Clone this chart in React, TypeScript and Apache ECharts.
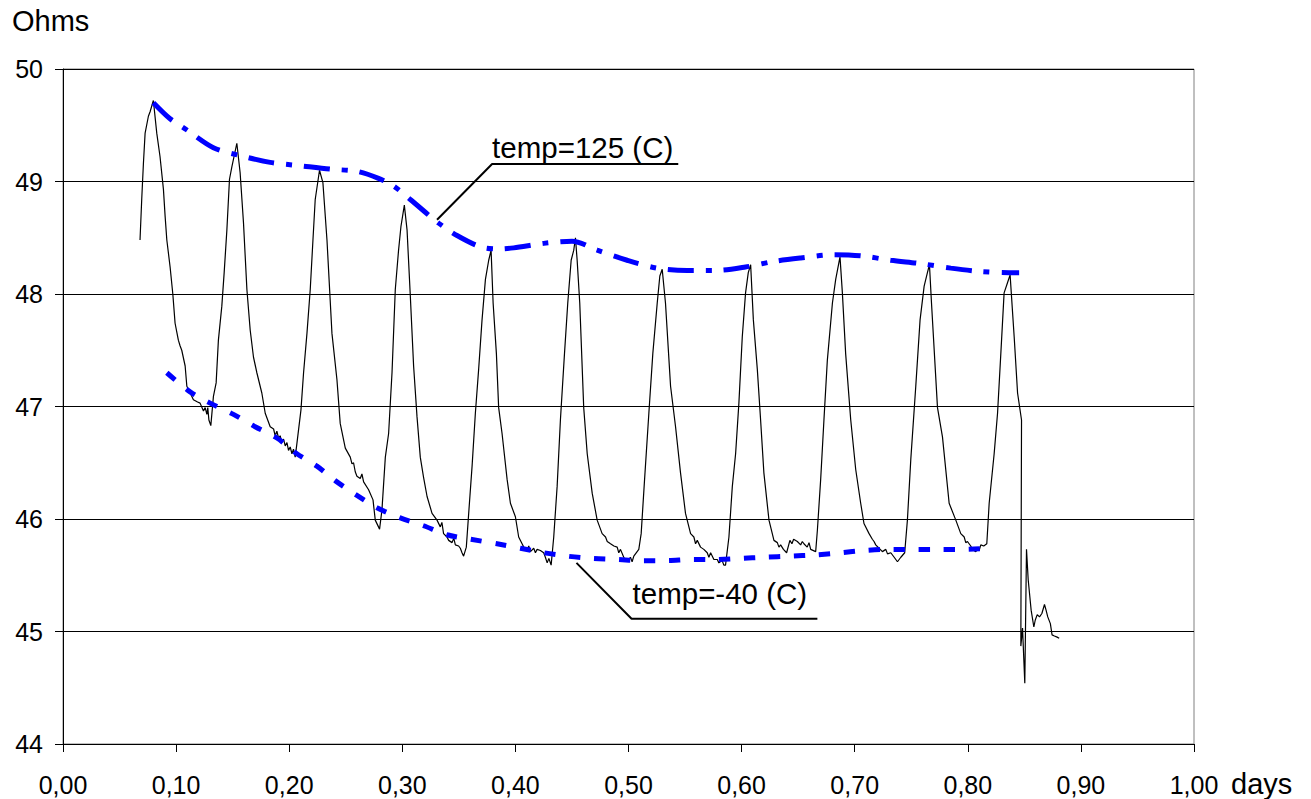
import React, { useEffect, useRef } from "react";
import * as echarts from "echarts";

const FONT = "'Liberation Sans', Arial, sans-serif";

// axis ranges
const X_MIN = 0;
const X_MAX = 1;
const X_STEP = 0.1;
const Y_MIN = 44;
const Y_MAX = 50;
const Y_STEP = 1;

// measured resistance (days, ohms)
const resistanceTrace: [number, number][] = [
  [0.0681, 48.48], [0.0696, 48.84], [0.0711, 49.16], [0.0726, 49.43], [0.0755, 49.58], [0.0770, 49.62],
  [0.0799, 49.72], [0.0829, 49.43], [0.0858, 49.22], [0.0888, 48.93], [0.0903, 48.69], [0.0918, 48.48],
  [0.0947, 48.24], [0.0971, 48.0], [0.0991, 47.74], [0.102, 47.59], [0.1035, 47.54], [0.105, 47.5],
  [0.108, 47.36], [0.1095, 47.18], [0.1125, 47.12], [0.1153, 47.06], [0.119, 47.04], [0.1212, 47.03],
  [0.1242, 46.96], [0.1257, 46.99], [0.1272, 46.93], [0.128, 46.99], [0.129, 46.88], [0.1307, 46.83],
  [0.133, 47.09], [0.1354, 47.21], [0.1374, 47.59], [0.1404, 47.89], [0.1425, 48.19], [0.1449, 48.57],
  [0.1472, 49.02], [0.1493, 49.13], [0.1537, 49.34], [0.1566, 49.08], [0.1596, 48.63], [0.1626, 48.04],
  [0.1655, 47.68], [0.1684, 47.44], [0.1714, 47.3], [0.1758, 47.12], [0.1788, 46.94], [0.1832, 46.82],
  [0.1862, 46.8], [0.1876, 46.74], [0.1891, 46.78], [0.1906, 46.72], [0.192, 46.74], [0.1935, 46.68],
  [0.195, 46.71], [0.1965, 46.65], [0.198, 46.68], [0.1994, 46.61], [0.2009, 46.64], [0.2024, 46.58],
  [0.2038, 46.62], [0.2053, 46.55], [0.2068, 46.67], [0.2104, 46.97], [0.2127, 47.3], [0.2157, 47.65],
  [0.2186, 48.04], [0.221, 48.48], [0.223, 48.84], [0.2268, 49.1], [0.2298, 48.99], [0.2334, 48.48],
  [0.2378, 47.65], [0.2422, 47.24], [0.2451, 46.85], [0.2496, 46.63], [0.254, 46.55], [0.2555, 46.49],
  [0.2569, 46.5], [0.2584, 46.42], [0.2599, 46.38], [0.2628, 46.36], [0.2643, 46.4], [0.2658, 46.33],
  [0.2702, 46.26], [0.2741, 46.17], [0.2761, 45.99], [0.278, 45.95], [0.2799, 45.91], [0.282, 46.08],
  [0.285, 46.55], [0.2879, 46.76], [0.2909, 47.3], [0.2938, 48.04], [0.2967, 48.39], [0.2988, 48.6],
  [0.3018, 48.79], [0.3042, 48.57], [0.3071, 47.98], [0.31, 47.36], [0.313, 46.91], [0.3159, 46.55],
  [0.3188, 46.37], [0.3219, 46.2], [0.3263, 46.05], [0.3307, 45.99], [0.3336, 45.93], [0.335, 45.97],
  [0.3365, 45.87], [0.3395, 45.84], [0.341, 45.81], [0.344, 45.79], [0.3455, 45.83], [0.3469, 45.77],
  [0.3498, 45.76], [0.3513, 45.74], [0.3528, 45.7], [0.3542, 45.67], [0.3566, 45.75], [0.3587, 46.05],
  [0.3617, 46.47], [0.3646, 46.94], [0.3675, 47.33], [0.3705, 47.77], [0.3735, 48.13], [0.3764, 48.3],
  [0.3785, 48.39], [0.3803, 47.92], [0.3832, 47.47], [0.3852, 46.99], [0.3882, 46.76], [0.3927, 46.35],
  [0.3956, 46.14], [0.4, 46.02], [0.4029, 45.84], [0.4059, 45.78], [0.4074, 45.75], [0.4104, 45.72],
  [0.4118, 45.76], [0.4133, 45.71], [0.4162, 45.74], [0.4177, 45.7], [0.4192, 45.73], [0.4221, 45.72],
  [0.425, 45.7], [0.4265, 45.66], [0.4281, 45.61], [0.4296, 45.65], [0.4316, 45.59], [0.4339, 45.84],
  [0.4369, 46.29], [0.4398, 46.88], [0.4434, 47.47], [0.4463, 47.92], [0.4493, 48.3], [0.4516, 48.39],
  [0.4531, 48.5], [0.4546, 48.3], [0.4569, 47.92], [0.4604, 46.99], [0.4635, 46.58], [0.4679, 46.23],
  [0.4723, 45.99], [0.4767, 45.87], [0.4797, 45.84], [0.4812, 45.8], [0.4841, 45.78], [0.4871, 45.76],
  [0.49, 45.75], [0.4914, 45.7], [0.4929, 45.73], [0.4958, 45.66], [0.4973, 45.64], [0.4988, 45.62],
  [0.5017, 45.66], [0.5032, 45.62], [0.5047, 45.67], [0.5091, 45.73], [0.5112, 45.87], [0.5142, 46.35],
  [0.518, 46.94], [0.5215, 47.47], [0.5254, 47.92], [0.5277, 48.16], [0.5298, 48.22], [0.5327, 47.92],
  [0.5372, 47.18], [0.5416, 46.82], [0.546, 46.41], [0.5504, 46.05], [0.5549, 45.87], [0.5578, 45.84],
  [0.5593, 45.78], [0.5608, 45.81], [0.5637, 45.75], [0.5666, 45.73], [0.5696, 45.7], [0.5711, 45.66],
  [0.5726, 45.7], [0.5755, 45.64], [0.5785, 45.64], [0.5799, 45.61], [0.5828, 45.63], [0.5843, 45.59],
  [0.5858, 45.59], [0.5888, 45.84], [0.5918, 46.29], [0.5947, 46.58], [0.5976, 47.03], [0.6006, 47.62],
  [0.6035, 48.01], [0.6059, 48.19], [0.608, 48.26], [0.6104, 47.77], [0.6139, 47.33], [0.6168, 46.88],
  [0.6197, 46.41], [0.6242, 45.99], [0.6286, 45.81], [0.6316, 45.79], [0.633, 45.75], [0.6345, 45.77],
  [0.637, 45.73], [0.6398, 45.7], [0.6427, 45.81], [0.6445, 45.78], [0.646, 45.82], [0.6493, 45.8],
  [0.6522, 45.77], [0.6537, 45.8], [0.6551, 45.78], [0.658, 45.75], [0.6596, 45.79], [0.6611, 45.73],
  [0.6655, 45.71], [0.667, 45.9], [0.6699, 46.35], [0.6728, 46.88], [0.6758, 47.41], [0.6803, 47.92],
  [0.6832, 48.13], [0.687, 48.33], [0.6891, 48.01], [0.692, 47.47], [0.6965, 46.88], [0.7009, 46.44],
  [0.7053, 46.14], [0.7082, 45.96], [0.7127, 45.87], [0.7156, 45.82], [0.7171, 45.8], [0.7186, 45.77],
  [0.7215, 45.74], [0.7245, 45.71], [0.7275, 45.73], [0.729, 45.69], [0.7319, 45.7], [0.7349, 45.66],
  [0.7378, 45.62], [0.7408, 45.66], [0.7442, 45.7], [0.7466, 45.99], [0.7496, 46.53], [0.754, 47.18],
  [0.7578, 47.77], [0.7614, 48.07], [0.7643, 48.19], [0.7661, 48.26], [0.7679, 47.92], [0.7732, 46.99],
  [0.7776, 46.73], [0.7835, 46.14], [0.7894, 45.99], [0.7938, 45.87], [0.7968, 45.84], [0.7982, 45.79],
  [0.7997, 45.8], [0.8026, 45.76], [0.8041, 45.73], [0.8071, 45.71], [0.8086, 45.74], [0.81, 45.72],
  [0.8115, 45.77], [0.8141, 45.76], [0.8168, 45.78], [0.8189, 46.14], [0.8233, 46.58], [0.8263, 46.94],
  [0.8292, 47.47], [0.8321, 48.01], [0.8351, 48.1], [0.8374, 48.17], [0.841, 47.62], [0.844, 47.12],
  [0.8475, 46.88], [0.8469, 44.87], [0.8484, 45.03], [0.8504, 44.54], [0.8519, 45.73], [0.8534, 45.46],
  [0.856, 45.19], [0.8584, 45.04], [0.8596, 45.1], [0.8614, 45.15], [0.8634, 45.13], [0.8655, 45.16],
  [0.8678, 45.24], [0.8692, 45.19], [0.8707, 45.13], [0.873, 45.07], [0.8745, 44.97], [0.8766, 44.96],
  [0.879, 44.95], [0.8808, 44.94],
];

// envelope at temp = 125 C (dash-dot)
const envelope125: [number, number][] = [
  [0.0799, 49.7], [0.0944, 49.56], [0.1092, 49.46], [0.133, 49.3], [0.1566, 49.23], [0.1832, 49.17],
  [0.2097, 49.14], [0.2363, 49.11], [0.2599, 49.09], [0.2784, 49.03], [0.2923, 48.96], [0.3071, 48.84],
  [0.3321, 48.63], [0.3484, 48.52], [0.369, 48.42], [0.385, 48.4], [0.3985, 48.41], [0.425, 48.45],
  [0.4501, 48.47], [0.4723, 48.39], [0.4988, 48.3], [0.5254, 48.23], [0.5519, 48.21], [0.5785, 48.21],
  [0.6035, 48.24], [0.6288, 48.29], [0.6522, 48.32], [0.6817, 48.35], [0.7053, 48.34], [0.7319, 48.3],
  [0.7584, 48.27], [0.785, 48.23], [0.8115, 48.2], [0.8366, 48.19], [0.8454, 48.19],
];

// envelope at temp = -40 C (dashed)
const envelopeMinus40: [number, number][] = [
  [0.0918, 47.3], [0.1124, 47.13], [0.1301, 47.03], [0.1507, 46.93], [0.1699, 46.82], [0.1891, 46.72],
  [0.2068, 46.58], [0.2245, 46.47], [0.2422, 46.33], [0.2599, 46.21], [0.2776, 46.1], [0.2982, 46.01],
  [0.3188, 45.94], [0.3396, 45.86], [0.3602, 45.82], [0.3838, 45.78], [0.4044, 45.74], [0.425, 45.7],
  [0.4457, 45.67], [0.4664, 45.65], [0.49, 45.64], [0.5106, 45.63], [0.5342, 45.63], [0.5549, 45.64],
  [0.577, 45.64], [0.5991, 45.65], [0.6197, 45.66], [0.6434, 45.67], [0.664, 45.68], [0.6876, 45.7],
  [0.7082, 45.72], [0.7289, 45.73], [0.7496, 45.73], [0.7732, 45.73], [0.7953, 45.73], [0.8174, 45.74],
];

// annotations
const label125 = "temp=125 (C)";
const labelMinus40 = "temp=-40 (C)";
const leader125: [number, number][] = [[0.3307, 48.66], [0.3794, 49.155], [0.544, 49.155]];
const leaderMinus40: [number, number][] = [[0.454, 45.61], [0.5027, 45.114], [0.667, 45.114]];
const yAxisTitle = "Ohms";
const xAxisTitle = "days";

export default function App() {
  const ref = useRef<HTMLDivElement>(null);

  useEffect(() => {
    if (!ref.current) return;
    const chart = echarts.init(ref.current, null, { renderer: "svg" });
    chart.setOption({
      animation: false,
      backgroundColor: "#ffffff",
      grid: {
        left: 63,
        right: 117,
        top: 69,
        bottom: 55,
        show: true,
        borderColor: "#808080",
        borderWidth: 1,
        backgroundColor: "transparent",
      },
      xAxis: {
        type: "value",
        min: X_MIN,
        max: X_MAX,
        interval: X_STEP,
        axisLine: { show: true, lineStyle: { color: "#000", width: 1 } },
        axisTick: { show: true, inside: false, length: 8, lineStyle: { color: "#000" } },
        axisLabel: {
          margin: 28,
          fontSize: 25,
          fontFamily: FONT,
          color: "#000",
          formatter: (v: number) => v.toFixed(2).replace(".", ","),
        },
        splitLine: { show: false },
      },
      yAxis: {
        type: "value",
        min: Y_MIN,
        max: Y_MAX,
        interval: Y_STEP,
        axisLine: { show: true, lineStyle: { color: "#000", width: 1 } },
        axisTick: { show: true, inside: false, length: 8, lineStyle: { color: "#000" } },
        axisLabel: { margin: 20, fontSize: 25, fontFamily: FONT, color: "#000" },
        splitLine: { show: true, lineStyle: { color: "#000", width: 1 } },
      },
      series: [
        {
          type: "line",
          data: resistanceTrace,
          showSymbol: false,
          symbol: "none",
          lineStyle: { color: "#000", width: 1.2 },
          silent: true,
          z: 2,
        },
        {
          type: "line",
          data: envelope125,
          showSymbol: false,
          symbol: "none",
          smooth: 0.3,
          lineStyle: { color: "#0000ff", width: 5, type: [26, 12, 6, 12], cap: "butt" },
          silent: true,
          z: 3,
        },
        {
          type: "line",
          data: envelopeMinus40,
          showSymbol: false,
          symbol: "none",
          smooth: 0.3,
          lineStyle: { color: "#0000ff", width: 5, type: [11, 14], cap: "butt" },
          silent: true,
          z: 3,
        },
        {
          type: "line",
          data: leader125,
          showSymbol: false,
          symbol: "none",
          lineStyle: { color: "#000", width: 2 },
          silent: true,
          z: 4,
        },
        {
          type: "line",
          data: leaderMinus40,
          showSymbol: false,
          symbol: "none",
          lineStyle: { color: "#000", width: 2 },
          silent: true,
          z: 4,
        },
      ],
    });

    const p125 = chart.convertToPixel({ gridIndex: 0 }, leader125[1]) as number[];
    const p40 = chart.convertToPixel({ gridIndex: 0 }, leaderMinus40[1]) as number[];

    const txt = (id: string, x: number, y: number, text: string, size: number) => ({
      type: "text",
      id,
      x,
      y,
      z: 10,
      style: {
        text,
        fill: "#000",
        fontSize: size,
        fontFamily: FONT,
        align: "left",
        verticalAlign: "middle",
        textAlign: "left",
        textVerticalAlign: "middle",
      },
    });

    chart.setOption({
      graphic: [
        txt("ohms", 12, 20.5, yAxisTitle, 29),
        txt("days", 1231, 784, xAxisTitle, 29),
        txt("t125", p125[0], p125[1] - 17, label125, 29.5),
        txt("t40", p40[0] + 1, p40[1] - 25, labelMinus40, 29.5),
      ],
    });

    return () => chart.dispose();
  }, []);

  return (
    <div
      ref={ref}
      style={{ position: "fixed", left: 0, top: 0, width: 1311, height: 799, background: "#fff" }}
    />
  );
}
